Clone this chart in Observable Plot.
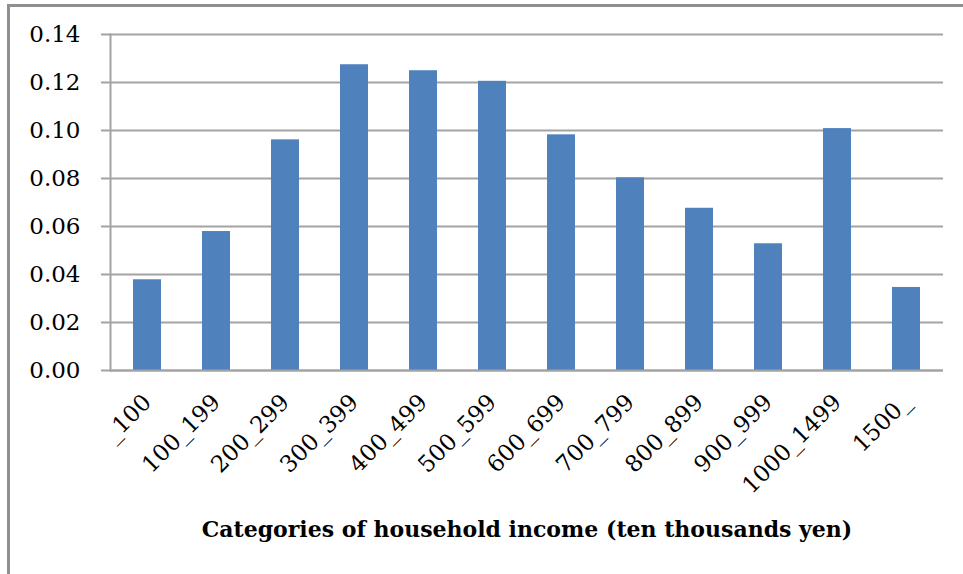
<!DOCTYPE html>
<html>
<head>
<meta charset="utf-8">
<script src="https://cdn.jsdelivr.net/npm/d3@7"></script>
<script src="https://cdn.jsdelivr.net/npm/@observablehq/plot@0.6"></script>
<style>
  html, body { margin: 0; padding: 0; background: #fff; }
  #wrap { position: relative; width: 963px; height: 574px; overflow: hidden; }
  #border { position: absolute; left: 7px; top: 4px; width: 1000px; height: 1000px;
            border-left: 3px solid #8f8f8f; border-top: 3px solid #8f8f8f; box-sizing: border-box; }
  #chart { position: absolute; left: 0; top: 0; }
</style>
</head>
<body>
<div id="wrap"><div id="border"></div><div id="chart"></div></div>
<script>
const categories = ["_100", "100_199", "200_299", "300_399", "400_499", "500_599",
                    "600_699", "700_799", "800_899", "900_999", "1000_1499", "1500_"];
const shares = [0.0378, 0.0579, 0.0961, 0.1274, 0.1249, 0.1205,
                0.0982, 0.0803, 0.0676, 0.0528, 0.1008, 0.0346];
const yTicks = [0, 0.02, 0.04, 0.06, 0.08, 0.10, 0.12, 0.14];
const xTitle = "Categories of household income (ten thousands yen)";

const data = categories.map((c, i) => ({category: c, share: shares[i]}));
const gray = "#a3a3a3";

const chart = Plot.plot({
  width: 963,
  height: 574,
  marginLeft: 110,
  marginRight: 20,
  marginTop: 34,
  marginBottom: 204,
  style: {background: "transparent", fontFamily: "'DejaVu Serif', serif", color: "#000"},
  x: {domain: categories, paddingInner: 0.6, paddingOuter: 0.3, label: null},
  y: {domain: [0, 0.14], label: null},
  marks: [
    Plot.ruleY(yTicks, {stroke: gray, strokeWidth: 2}),
    Plot.barY(data, {x: "category", y: "share", fill: "#4F81BD"}),
    Plot.ruleY([0], {stroke: gray, strokeWidth: 2}),
    Plot.frame({anchor: "left", stroke: gray, strokeWidth: 2}),
    Plot.axisY({ticks: yTicks, tickFormat: d3.format(".2f"), tickSize: 9, tickPadding: 21,
                stroke: gray, strokeWidth: 2, strokeOpacity: 1, fontSize: 23, label: null}),
    Plot.axisX({tickRotate: -45, tickSize: 0, tickPadding: 28, fontSize: 23, label: null}),
    Plot.text([xTitle], {frameAnchor: "bottom", dy: 166, fontSize: 22, fontWeight: "bold",
                         fontFamily: "'DejaVu Serif', serif", fill: "#000"})
  ]
});
document.getElementById("chart").appendChild(chart);
</script>
</body>
</html>
